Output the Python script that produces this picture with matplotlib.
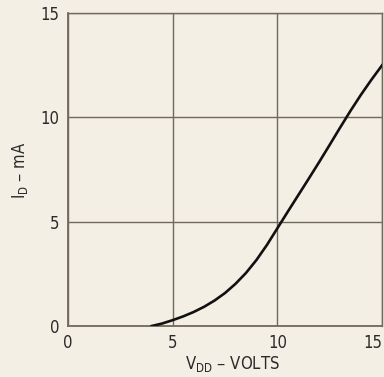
import matplotlib
matplotlib.use("Agg")
import matplotlib.pyplot as plt

# Data
vdd = [4.0, 4.5, 5.0, 5.5, 6.0, 6.5, 7.0, 7.5, 8.0, 8.5, 9.0, 9.5, 10.0,
       10.5, 11.0, 11.5, 12.0, 12.5, 13.0, 13.5, 14.0, 14.5, 15.0]
id_ma = [0.0, 0.12, 0.28, 0.46, 0.67, 0.92, 1.22, 1.58, 2.02, 2.54, 3.16, 3.88, 4.68,
         5.48, 6.27, 7.06, 7.86, 8.68, 9.51, 10.32, 11.09, 11.81, 12.49]
x_ticks = [0, 5, 10, 15]
y_ticks = [0, 5, 10, 15]

bg = "#f3efe5"
grid_c = "#6f6a5c"
txt_c = "#2a2a2a"

plt.rcParams["font.family"] = ["DejaVu Sans"]

fig = plt.figure(figsize=(3.84, 3.77), dpi=100, facecolor=bg)
ax = fig.add_axes([68/384, 51/377, (382-68)/384, (326-13)/377])
ax.set_facecolor(bg)

ax.plot(vdd, id_ma, color="#111111", lw=1.9, solid_joinstyle="round", zorder=3)

ax.set_xlim(0, 15)
ax.set_ylim(0, 15)
ax.set_xticks(x_ticks)
ax.set_yticks(y_ticks)
ax.set_xticklabels([str(t) for t in x_ticks], fontstretch="condensed")
ax.set_yticklabels([str(t) for t in y_ticks], fontstretch="condensed")
ax.tick_params(length=0, labelsize=12, colors=txt_c, pad=6)
ax.get_xticklabels()[-1].set_ha("right")
ax.grid(True, color=grid_c, lw=1.0)
for s in ax.spines.values():
    s.set_color(grid_c)
    s.set_linewidth(1.0)
ax.spines["left"].set_linewidth(1.3)
ax.spines["bottom"].set_linewidth(1.3)

fig.text(232/384, 1 - 364/377, r"V$_{\mathregular{DD}}$ – VOLTS", ha="center", va="center",
         fontsize=12, color=txt_c, fontstretch="condensed")
fig.text(20/384, 1 - 170/377, r"I$_{\mathregular{D}}$ – mA", ha="center", va="center",
         rotation=90, fontsize=12, color=txt_c, fontstretch="condensed")

fig.savefig("out.png", dpi=100, facecolor=bg)
